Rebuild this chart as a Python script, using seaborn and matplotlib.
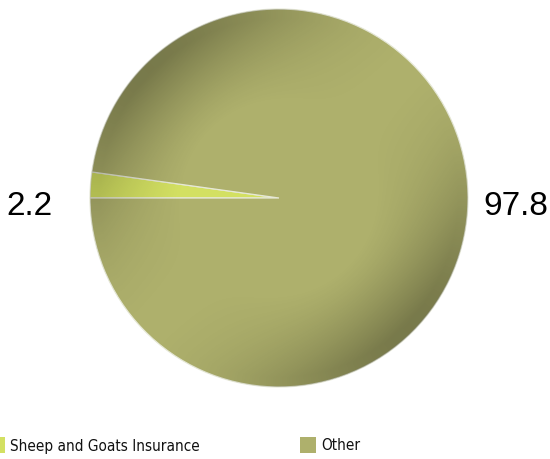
import numpy as np
import matplotlib
matplotlib.use("Agg")
import matplotlib.pyplot as plt
from matplotlib.patches import Circle, Rectangle
import seaborn as sns

# Share of the insurance budget (%)
categories = ["Sheep and Goats Insurance", "Other"]
values = [2.2, 97.8]
colors = ["#D3E062", "#AEB06C"]

sns.set_theme(style="white")
plt.rcParams["font.family"] = ["Liberation Sans", "DejaVu Sans"]

W, H, DPI = 550, 459, 100
fig = plt.figure(figsize=(W / DPI, H / DPI), dpi=DPI)
fig.patch.set_facecolor("white")

cx, cy, R = 279, 198, 189  # pie centre and radius in pixels (from top-left)
ax = fig.add_axes([(cx - R) / W, (H - cy - R) / H, 2 * R / W, 2 * R / H])

wedges, _ = ax.pie(values, colors=colors, startangle=180, counterclock=False,
                   radius=1, wedgeprops=dict(edgecolor="#E6E8D6", linewidth=0.9))
ax.set_xlim(-1, 1)
ax.set_ylim(-1, 1)
ax.set_aspect("equal")
ax.axis("off")

# Rim shading: darker towards the edge, strongest at upper-left and lower-right
n = 600
xs = np.linspace(-1, 1, n)
X, Y = np.meshgrid(xs, xs)
r = np.hypot(X, Y)
theta = np.arctan2(Y, X)
rim = np.clip((r - 0.5) / 0.45, 0, 1) ** 1.3
ang = np.cos(theta - np.deg2rad(135)) ** 2
alpha = 0.31 * rim * ang
shade = np.zeros((n, n, 4))
shade[..., 3] = alpha
im = ax.imshow(shade, extent=[-1, 1, -1, 1], origin="lower", zorder=3,
               interpolation="bilinear")
clip = Circle((0, 0), 1.0, transform=ax.transData)
im.set_clip_path(clip)

# Value labels
label_pos = [(29, 207), (516, 207)]
for v, (px, py) in zip(values, label_pos):
    fig.text(px / W, 1 - py / H, f"{v}", ha="center", va="center",
             fontsize=24, color="black")

# Legend row at the bottom
leg_items = [(-11, categories[0], colors[0]), (300, categories[1], colors[1])]
for px, label, col in leg_items:
    fig.patches.append(Rectangle((px / W, 1 - 453 / H), 16 / W, 16 / H,
                                 transform=fig.transFigure, facecolor=col,
                                 edgecolor="none"))
    fig.text((px + 21) / W, 1 - 446 / H, label, ha="left", va="center",
             fontsize=11, family=["DejaVu Sans"], fontstretch="condensed",
             color="#111111")

fig.savefig("out.png", dpi=DPI, facecolor="white")
